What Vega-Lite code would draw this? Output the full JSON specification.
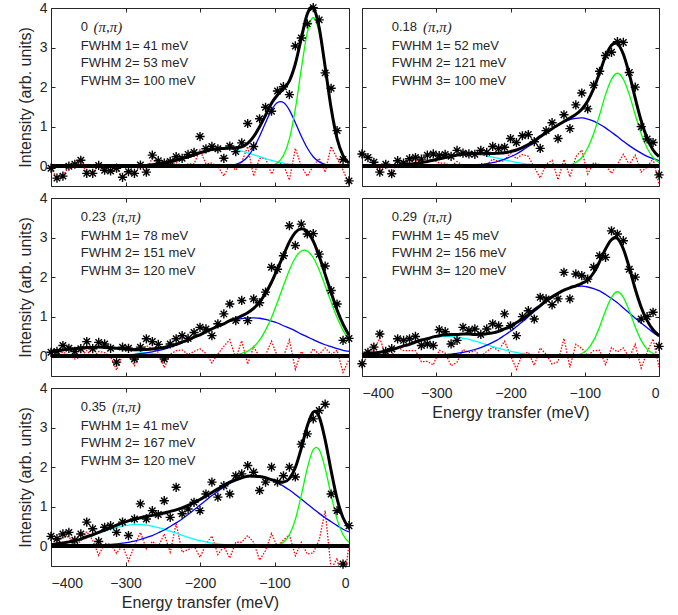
{
"$schema": "https://vega.github.io/schema/vega-lite/v6.json",
"padding": {"left": 16, "top": -1, "right": 5, "bottom": 5},
"background": "white",
"columns": 2,
"spacing": {"row": 12, "column": 13},
"bounds": "flush",
"datasets": {
"d": [
{"p":1,"E":-400,"t":0,"y":-0.05,"r":-0.05},
{"p":1,"E":-392,"t":0,"y":-0.3,"r":-0.3},
{"p":1,"E":-384,"t":0,"y":-0.25,"r":-0.25},
{"p":1,"E":-376,"t":0,"y":0,"r":0},
{"p":1,"E":-368,"t":0,"y":0.05,"r":0.05},
{"p":1,"E":-360,"t":0,"y":0.15,"r":0.15},
{"p":1,"E":-352,"t":0,"y":-0.18,"r":-0.18},
{"p":1,"E":-344,"t":0,"y":-0.18,"r":-0.18},
{"p":1,"E":-336,"t":0,"y":0.02,"r":0.02},
{"p":1,"E":-328,"t":0,"y":-0.1,"r":-0.1},
{"p":1,"E":-320,"t":0,"y":-0.12,"r":-0.12},
{"p":1,"E":-312,"t":0,"y":-0.05,"r":-0.05},
{"p":1,"E":-304,"t":0,"y":-0.28,"r":-0.28},
{"p":1,"E":-296,"t":0,"y":-0.14,"r":-0.14},
{"p":1,"E":-288,"t":0,"y":-0.18,"r":-0.18},
{"p":1,"E":-280,"t":0.01,"y":0.03,"r":0.02},
{"p":1,"E":-272,"t":0.02,"y":-0.15,"r":-0.17,"c":0.023},
{"p":1,"E":-264,"t":0.04,"y":0.28,"r":0.24,"c":0.035},
{"p":1,"E":-256,"t":0.05,"y":0.14,"r":0.09,"c":0.053},
{"p":1,"E":-248,"t":0.08,"y":0.08,"r":0,"c":0.077},
{"p":1,"E":-240,"t":0.11,"y":0.12,"r":0.01,"c":0.107},
{"p":1,"E":-232,"t":0.15,"y":0.24,"r":0.09,"c":0.145},
{"p":1,"E":-224,"t":0.19,"y":0.2,"r":0.01,"c":0.19},
{"p":1,"E":-216,"t":0.24,"y":0.3,"r":0.06,"c":0.24},
{"p":1,"E":-208,"t":0.29,"y":0.35,"r":0.06,"c":0.29},
{"p":1,"E":-200,"t":0.34,"y":0.75,"r":0.41,"c":0.34},
{"p":1,"E":-192,"t":0.38,"y":0.44,"r":0.06,"c":0.38},
{"p":1,"E":-184,"t":0.42,"y":0.5,"r":0.08,"c":0.42},
{"p":1,"E":-176,"t":0.44,"y":0.44,"r":0,"c":0.44},
{"p":1,"E":-168,"t":0.45,"y":0.2,"r":-0.25,"c":0.45},
{"p":1,"E":-160,"t":0.46,"y":0.51,"r":0.05,"b":0.017,"c":0.44},
{"p":1,"E":-152,"t":0.47,"y":0.37,"r":-0.1,"b":0.047,"c":0.42},
{"p":1,"E":-144,"t":0.49,"y":0.59,"r":0.1,"b":0.11,"c":0.38},
{"p":1,"E":-136,"t":0.58,"y":1.08,"r":0.5,"b":0.24,"c":0.34},
{"p":1,"E":-128,"t":0.75,"y":0.5,"r":-0.25,"b":0.46,"c":0.29},
{"p":1,"E":-120,"t":1,"y":1.2,"r":0.2,"b":0.76,"c":0.24},
{"p":1,"E":-112,"t":1.29,"y":1.49,"r":0.2,"b":1.1,"c":0.19},
{"p":1,"E":-104,"t":1.59,"y":1.39,"r":-0.2,"g":0.02,"b":1.42,"c":0.145},
{"p":1,"E":-96,"t":1.8,"y":1.9,"r":0.1,"g":0.083,"b":1.61,"c":0.107},
{"p":1,"E":-88,"t":1.96,"y":2.01,"r":0.05,"g":0.27,"b":1.61,"c":0.077},
{"p":1,"E":-80,"t":2.16,"y":1.81,"r":-0.35,"g":0.69,"b":1.42,"c":0.053},
{"p":1,"E":-72,"t":2.59,"y":3.04,"r":0.45,"g":1.45,"b":1.1,"c":0.035},
{"p":1,"E":-64,"t":3.24,"y":3.24,"r":0,"g":2.46,"b":0.76,"c":0.023},
{"p":1,"E":-56,"t":3.85,"y":3.6,"r":-0.25,"g":3.38,"b":0.46,"c":0.014},
{"p":1,"E":-48,"t":4.01,"y":4.01,"r":0,"g":3.76,"b":0.24,"c":0.008},
{"p":1,"E":-40,"t":3.5,"y":3.7,"r":0.2,"g":3.38,"b":0.11,"c":0.005},
{"p":1,"E":-32,"t":2.51,"y":2.36,"r":-0.15,"g":2.46,"b":0.047},
{"p":1,"E":-24,"t":1.47,"y":1.97,"r":0.5,"g":1.45,"b":0.017},
{"p":1,"E":-16,"t":0.7,"y":0.9,"r":0.2,"g":0.69},
{"p":1,"E":-8,"t":0.27,"y":0.17,"r":-0.1,"g":0.27},
{"p":1,"E":0,"t":0.08,"y":-0.37,"r":-0.45,"g":0.083},

{"p":2,"E":-400,"t":0,"y":0.31,"r":0.31,"c":0},
{"p":2,"E":-392,"t":0,"y":0.22,"r":0.22,"c":0},
{"p":2,"E":-384,"t":0,"y":0.1,"r":0.1,"c":0.003},
{"p":2,"E":-376,"t":0.01,"y":-0.15,"r":-0.16,"c":0.005},
{"p":2,"E":-368,"t":0.01,"y":0.05,"r":0.04,"c":0.009},
{"p":2,"E":-360,"t":0.01,"y":-0.19,"r":-0.2,"c":0.014},
{"p":2,"E":-352,"t":0.02,"y":0.14,"r":0.12,"c":0.022},
{"p":2,"E":-344,"t":0.03,"y":0.08,"r":0.05,"c":0.033},
{"p":2,"E":-336,"t":0.05,"y":0.19,"r":0.14,"c":0.049},
{"p":2,"E":-328,"t":0.07,"y":0.22,"r":0.15,"c":0.069},
{"p":2,"E":-320,"t":0.09,"y":0.18,"r":0.09,"c":0.093},
{"p":2,"E":-312,"t":0.12,"y":0.28,"r":0.16,"c":0.122},
{"p":2,"E":-304,"t":0.15,"y":0.31,"r":0.16,"c":0.154},
{"p":2,"E":-296,"t":0.19,"y":0.27,"r":0.08,"c":0.188},
{"p":2,"E":-288,"t":0.22,"y":0.3,"r":0.08,"c":0.222},
{"p":2,"E":-280,"t":0.25,"y":0.25,"r":0,"c":0.252},
{"p":2,"E":-272,"t":0.28,"y":0.4,"r":0.12,"c":0.277},
{"p":2,"E":-264,"t":0.31,"y":0.33,"r":0.02,"c":0.293},
{"p":2,"E":-256,"t":0.32,"y":0.31,"r":-0.01,"b":0.018,"c":0.3},
{"p":2,"E":-248,"t":0.32,"y":0.3,"r":-0.02,"b":0.028,"c":0.296},
{"p":2,"E":-240,"t":0.33,"y":0.4,"r":0.07,"b":0.043,"c":0.282},
{"p":2,"E":-232,"t":0.32,"y":0.35,"r":0.03,"b":0.063,"c":0.259},
{"p":2,"E":-224,"t":0.32,"y":0.5,"r":0.18,"b":0.09,"c":0.23},
{"p":2,"E":-216,"t":0.33,"y":0.45,"r":0.12,"b":0.13,"c":0.197},
{"p":2,"E":-208,"t":0.34,"y":0.48,"r":0.14,"b":0.18,"c":0.163},
{"p":2,"E":-200,"t":0.37,"y":0.7,"r":0.33,"b":0.24,"c":0.13},
{"p":2,"E":-192,"t":0.41,"y":0.6,"r":0.19,"b":0.31,"c":0.1},
{"p":2,"E":-184,"t":0.47,"y":0.77,"r":0.3,"b":0.4,"c":0.074},
{"p":2,"E":-176,"t":0.55,"y":0.8,"r":0.25,"b":0.5,"c":0.053},
{"p":2,"E":-168,"t":0.64,"y":0.62,"r":-0.02,"b":0.6,"c":0.037},
{"p":2,"E":-160,"t":0.75,"y":0.45,"r":-0.3,"b":0.72,"c":0.025},
{"p":2,"E":-152,"t":0.85,"y":0.9,"r":0.05,"b":0.83},
{"p":2,"E":-144,"t":0.95,"y":1.1,"r":0.15,"b":0.94},
{"p":2,"E":-136,"t":1.04,"y":0.7,"r":-0.34,"b":1.04},
{"p":2,"E":-128,"t":1.13,"y":1.3,"r":0.17,"g":0.012,"b":1.12},
{"p":2,"E":-120,"t":1.22,"y":0.95,"r":-0.27,"g":0.036,"b":1.18},
{"p":2,"E":-112,"t":1.31,"y":1.55,"r":0.24,"g":0.095,"b":1.21},
{"p":2,"E":-104,"t":1.44,"y":1.85,"r":0.41,"g":0.22,"b":1.22},
{"p":2,"E":-96,"t":1.65,"y":1.45,"r":-0.2,"g":0.46,"b":1.19},
{"p":2,"E":-88,"t":1.96,"y":2.05,"r":0.09,"g":0.82,"b":1.14},
{"p":2,"E":-80,"t":2.36,"y":2.4,"r":0.04,"g":1.3,"b":1.06},
{"p":2,"E":-72,"t":2.78,"y":2.8,"r":0.02,"g":1.81,"b":0.97},
{"p":2,"E":-64,"t":3.06,"y":2.88,"r":-0.18,"g":2.2,"b":0.86},
{"p":2,"E":-56,"t":3.1,"y":3.15,"r":0.05,"g":2.35,"b":0.75},
{"p":2,"E":-48,"t":2.83,"y":3.13,"r":0.3,"g":2.2,"b":0.63},
{"p":2,"E":-40,"t":2.33,"y":2.37,"r":0.04,"g":1.81,"b":0.52},
{"p":2,"E":-32,"t":1.72,"y":2,"r":0.28,"g":1.3,"b":0.42},
{"p":2,"E":-24,"t":1.15,"y":1,"r":-0.15,"g":0.82,"b":0.33},
{"p":2,"E":-16,"t":0.71,"y":0.69,"r":-0.02,"g":0.46,"b":0.25},
{"p":2,"E":-8,"t":0.41,"y":0.6,"r":0.19,"g":0.22,"b":0.19},
{"p":2,"E":0,"t":0.24,"y":-0.22,"r":-0.46,"g":0.095,"b":0.14},

{"p":3,"E":-400,"t":0.12,"y":0.1,"r":-0.02,"c":0.115},
{"p":3,"E":-392,"t":0.14,"y":0.12,"r":-0.02,"c":0.136},
{"p":3,"E":-384,"t":0.16,"y":0.27,"r":0.11,"c":0.157},
{"p":3,"E":-376,"t":0.18,"y":0.2,"r":0.02,"c":0.176},
{"p":3,"E":-368,"t":0.19,"y":0.12,"r":-0.07,"c":0.193},
{"p":3,"E":-360,"t":0.21,"y":0.19,"r":-0.02,"c":0.207},
{"p":3,"E":-352,"t":0.22,"y":0.37,"r":0.15,"c":0.216},
{"p":3,"E":-344,"t":0.22,"y":0.19,"r":-0.03,"c":0.22},
{"p":3,"E":-336,"t":0.23,"y":0.35,"r":0.12,"c":0.22},
{"p":3,"E":-328,"t":0.22,"y":0.31,"r":0.09,"c":0.212},
{"p":3,"E":-320,"t":0.21,"y":0.2,"r":-0.01,"c":0.2},
{"p":3,"E":-312,"t":0.2,"y":-0.15,"r":-0.35,"b":0.018,"c":0.185},
{"p":3,"E":-304,"t":0.19,"y":0.23,"r":0.04,"b":0.025,"c":0.167},
{"p":3,"E":-296,"t":0.18,"y":0.2,"r":0.02,"b":0.035,"c":0.146},
{"p":3,"E":-288,"t":0.17,"y":-0.07,"r":-0.24,"b":0.048,"c":0.126},
{"p":3,"E":-280,"t":0.17,"y":0.23,"r":0.06,"b":0.065,"c":0.105},
{"p":3,"E":-272,"t":0.17,"y":0.44,"r":0.27,"b":0.086,"c":0.086},
{"p":3,"E":-264,"t":0.18,"y":0.37,"r":0.19,"b":0.11,"c":0.068},
{"p":3,"E":-256,"t":0.2,"y":0.3,"r":0.1,"b":0.145,"c":0.053},
{"p":3,"E":-248,"t":0.22,"y":-0.07,"r":-0.29,"b":0.18,"c":0.04},
{"p":3,"E":-240,"t":0.26,"y":0.31,"r":0.05,"b":0.23,"c":0.03},
{"p":3,"E":-232,"t":0.3,"y":0.44,"r":0.14,"b":0.28},
{"p":3,"E":-224,"t":0.36,"y":0.52,"r":0.16,"b":0.34},
{"p":3,"E":-216,"t":0.41,"y":0.45,"r":0.04,"b":0.4},
{"p":3,"E":-208,"t":0.48,"y":0.6,"r":0.12,"b":0.47},
{"p":3,"E":-200,"t":0.54,"y":0.73,"r":0.19,"b":0.54},
{"p":3,"E":-192,"t":0.62,"y":0.69,"r":0.07,"b":0.62},
{"p":3,"E":-184,"t":0.69,"y":0.52,"r":-0.17,"b":0.69},
{"p":3,"E":-176,"t":0.76,"y":0.82,"r":0.06,"b":0.76},
{"p":3,"E":-168,"t":0.82,"y":1.07,"r":0.25,"b":0.82},
{"p":3,"E":-160,"t":0.9,"y":1.32,"r":0.42,"g":0.015,"b":0.88},
{"p":3,"E":-152,"t":0.95,"y":0.9,"r":-0.05,"g":0.03,"b":0.92},
{"p":3,"E":-144,"t":1.02,"y":1.41,"r":0.39,"g":0.07,"b":0.95},
{"p":3,"E":-136,"t":1.1,"y":0.9,"r":-0.2,"g":0.13,"b":0.97},
{"p":3,"E":-128,"t":1.21,"y":1.45,"r":0.24,"g":0.24,"b":0.97},
{"p":3,"E":-120,"t":1.37,"y":1.35,"r":-0.02,"g":0.41,"b":0.96},
{"p":3,"E":-112,"t":1.59,"y":1.62,"r":0.03,"g":0.66,"b":0.93},
{"p":3,"E":-104,"t":1.87,"y":2.25,"r":0.38,"g":0.98,"b":0.89},
{"p":3,"E":-96,"t":2.21,"y":2.2,"r":-0.01,"g":1.37,"b":0.84},
{"p":3,"E":-88,"t":2.55,"y":2.54,"r":-0.01,"g":1.78,"b":0.77},
{"p":3,"E":-80,"t":2.89,"y":3.3,"r":0.41,"g":2.18,"b":0.71},
{"p":3,"E":-72,"t":3.13,"y":2.8,"r":-0.33,"g":2.49,"b":0.64},
{"p":3,"E":-64,"t":3.22,"y":3.34,"r":0.12,"g":2.66,"b":0.56},
{"p":3,"E":-56,"t":3.15,"y":3.09,"r":-0.06,"g":2.66,"b":0.49},
{"p":3,"E":-48,"t":2.91,"y":3.1,"r":0.19,"g":2.49,"b":0.42},
{"p":3,"E":-40,"t":2.53,"y":2.58,"r":0.05,"g":2.18,"b":0.35},
{"p":3,"E":-32,"t":2.07,"y":2.28,"r":0.21,"g":1.78,"b":0.29},
{"p":3,"E":-24,"t":1.61,"y":1.66,"r":0.05,"g":1.37,"b":0.24},
{"p":3,"E":-16,"t":1.17,"y":1.32,"r":0.15,"g":0.98,"b":0.19},
{"p":3,"E":-8,"t":0.81,"y":0.4,"r":-0.41,"g":0.66,"b":0.15},
{"p":3,"E":0,"t":0.53,"y":0.45,"r":-0.08,"g":0.41,"b":0.12},

{"p":4,"E":-400,"t":0.04,"y":-0.19,"r":-0.23,"c":0.039},
{"p":4,"E":-392,"t":0.06,"y":0.1,"r":0.04,"c":0.055},
{"p":4,"E":-384,"t":0.08,"y":0.23,"r":0.15,"c":0.076},
{"p":4,"E":-376,"t":0.1,"y":0.56,"r":0.46,"c":0.1},
{"p":4,"E":-368,"t":0.13,"y":0.12,"r":-0.01,"c":0.13},
{"p":4,"E":-360,"t":0.17,"y":0.19,"r":0.02,"c":0.17},
{"p":4,"E":-352,"t":0.21,"y":0.44,"r":0.23,"c":0.21},
{"p":4,"E":-344,"t":0.26,"y":0.4,"r":0.14,"c":0.26},
{"p":4,"E":-336,"t":0.3,"y":0.44,"r":0.14,"c":0.3},
{"p":4,"E":-328,"t":0.36,"y":0.5,"r":0.14,"c":0.35},
{"p":4,"E":-320,"t":0.41,"y":0.27,"r":-0.14,"c":0.4},
{"p":4,"E":-312,"t":0.44,"y":0.31,"r":-0.13,"c":0.43},
{"p":4,"E":-304,"t":0.49,"y":0.27,"r":-0.22,"b":0.019,"c":0.47},
{"p":4,"E":-296,"t":0.52,"y":0.67,"r":0.15,"b":0.028,"c":0.49},
{"p":4,"E":-288,"t":0.54,"y":0.62,"r":0.08,"b":0.039,"c":0.5},
{"p":4,"E":-280,"t":0.55,"y":0.31,"r":-0.24,"b":0.054,"c":0.5},
{"p":4,"E":-272,"t":0.55,"y":0.4,"r":-0.15,"b":0.073,"c":0.48},
{"p":4,"E":-264,"t":0.56,"y":0.73,"r":0.17,"b":0.099,"c":0.46},
{"p":4,"E":-256,"t":0.56,"y":0.65,"r":0.09,"b":0.13,"c":0.43},
{"p":4,"E":-248,"t":0.55,"y":0.69,"r":0.14,"b":0.17,"c":0.38},
{"p":4,"E":-240,"t":0.56,"y":0.55,"r":-0.01,"b":0.22,"c":0.34},
{"p":4,"E":-232,"t":0.57,"y":0.69,"r":0.12,"b":0.28,"c":0.29},
{"p":4,"E":-224,"t":0.59,"y":0.82,"r":0.23,"b":0.35,"c":0.24},
{"p":4,"E":-216,"t":0.63,"y":0.77,"r":0.14,"b":0.43,"c":0.2},
{"p":4,"E":-208,"t":0.69,"y":1.07,"r":0.38,"b":0.53,"c":0.16},
{"p":4,"E":-200,"t":0.75,"y":0.77,"r":0.02,"b":0.63,"c":0.12},
{"p":4,"E":-192,"t":0.85,"y":0.52,"r":-0.33,"b":0.75,"c":0.095},
{"p":4,"E":-184,"t":0.94,"y":1,"r":0.06,"b":0.87,"c":0.07},
{"p":4,"E":-176,"t":1.05,"y":1.15,"r":0.1,"b":1,"c":0.051},
{"p":4,"E":-168,"t":1.17,"y":0.94,"r":-0.23,"b":1.13,"c":0.036},
{"p":4,"E":-160,"t":1.28,"y":1.49,"r":0.21,"b":1.25,"c":0.025},
{"p":4,"E":-152,"t":1.4,"y":1.45,"r":0.05,"b":1.38},
{"p":4,"E":-144,"t":1.5,"y":1.3,"r":-0.2,"b":1.49},
{"p":4,"E":-136,"t":1.59,"y":1.45,"r":-0.14,"b":1.59},
{"p":4,"E":-128,"t":1.67,"y":2.12,"r":0.45,"b":1.67},
{"p":4,"E":-120,"t":1.73,"y":1.45,"r":-0.28,"b":1.73},
{"p":4,"E":-112,"t":1.78,"y":2.08,"r":0.3,"g":0.022,"b":1.76},
{"p":4,"E":-104,"t":1.84,"y":2.04,"r":0.2,"g":0.07,"b":1.77},
{"p":4,"E":-96,"t":1.93,"y":1.95,"r":0.02,"g":0.18,"b":1.75},
{"p":4,"E":-88,"t":2.11,"y":2.25,"r":0.14,"g":0.4,"b":1.71},
{"p":4,"E":-80,"t":2.39,"y":2.54,"r":0.15,"g":0.74,"b":1.65},
{"p":4,"E":-72,"t":2.71,"y":2.5,"r":-0.21,"g":1.15,"b":1.56},
{"p":4,"E":-64,"t":2.95,"y":3.17,"r":0.22,"g":1.49,"b":1.46},
{"p":4,"E":-56,"t":2.98,"y":3.09,"r":0.11,"g":1.63,"b":1.35},
{"p":4,"E":-48,"t":2.71,"y":2.92,"r":0.21,"g":1.49,"b":1.22},
{"p":4,"E":-40,"t":2.24,"y":2.2,"r":-0.04,"g":1.15,"b":1.09},
{"p":4,"E":-32,"t":1.7,"y":2,"r":0.3,"g":0.74,"b":0.96},
{"p":4,"E":-24,"t":1.24,"y":0.94,"r":-0.3,"g":0.4,"b":0.84},
{"p":4,"E":-16,"t":0.9,"y":1,"r":0.1,"g":0.18,"b":0.72},
{"p":4,"E":-8,"t":0.67,"y":1.11,"r":0.44,"g":0.07,"b":0.6},
{"p":4,"E":0,"t":0.52,"y":0.25,"r":-0.27,"g":0.022,"b":0.5},

{"p":5,"E":-400,"t":0.04,"y":0.25,"r":0.21,"c":0.041},
{"p":5,"E":-392,"t":0.06,"y":0.19,"r":0.13,"c":0.058},
{"p":5,"E":-384,"t":0.08,"y":0.31,"r":0.23,"c":0.08},
{"p":5,"E":-376,"t":0.11,"y":0.35,"r":0.24,"c":0.108},
{"p":5,"E":-368,"t":0.14,"y":0.15,"r":0.01,"c":0.14},
{"p":5,"E":-360,"t":0.18,"y":0.31,"r":0.13,"c":0.18},
{"p":5,"E":-352,"t":0.24,"y":0.61,"r":0.37,"c":0.226},
{"p":5,"E":-344,"t":0.29,"y":0.44,"r":0.15,"c":0.275},
{"p":5,"E":-336,"t":0.35,"y":0.12,"r":-0.23,"b":0.023,"c":0.33},
{"p":5,"E":-328,"t":0.41,"y":0.48,"r":0.07,"b":0.032,"c":0.38},
{"p":5,"E":-320,"t":0.47,"y":0.52,"r":0.05,"b":0.044,"c":0.43},
{"p":5,"E":-312,"t":0.53,"y":0.35,"r":-0.18,"b":0.059,"c":0.47},
{"p":5,"E":-304,"t":0.59,"y":0.61,"r":0.02,"b":0.078,"c":0.51},
{"p":5,"E":-296,"t":0.64,"y":0.27,"r":-0.37,"b":0.1,"c":0.535},
{"p":5,"E":-288,"t":0.68,"y":0.69,"r":0.01,"b":0.13,"c":0.55},
{"p":5,"E":-280,"t":0.72,"y":1.07,"r":0.35,"b":0.17,"c":0.55},
{"p":5,"E":-272,"t":0.76,"y":0.69,"r":-0.07,"b":0.22,"c":0.535},
{"p":5,"E":-264,"t":0.78,"y":0.9,"r":0.12,"b":0.27,"c":0.51},
{"p":5,"E":-256,"t":0.81,"y":0.8,"r":-0.01,"b":0.34,"c":0.47},
{"p":5,"E":-248,"t":0.84,"y":1.15,"r":0.31,"b":0.41,"c":0.43},
{"p":5,"E":-240,"t":0.88,"y":0.73,"r":-0.15,"b":0.5,"c":0.38},
{"p":5,"E":-232,"t":0.92,"y":1.49,"r":0.57,"b":0.59,"c":0.33},
{"p":5,"E":-224,"t":0.97,"y":0.82,"r":-0.15,"b":0.69,"c":0.275},
{"p":5,"E":-216,"t":1.03,"y":0.94,"r":-0.09,"b":0.8,"c":0.226},
{"p":5,"E":-208,"t":1.1,"y":1.11,"r":0.01,"b":0.92,"c":0.18},
{"p":5,"E":-200,"t":1.18,"y":0.9,"r":-0.28,"b":1.04,"c":0.14},
{"p":5,"E":-192,"t":1.27,"y":1.32,"r":0.05,"b":1.16,"c":0.108},
{"p":5,"E":-184,"t":1.36,"y":1.62,"r":0.26,"b":1.28,"c":0.08},
{"p":5,"E":-176,"t":1.45,"y":1.24,"r":-0.21,"b":1.39,"c":0.058},
{"p":5,"E":-168,"t":1.54,"y":1.53,"r":-0.01,"b":1.5,"c":0.041},
{"p":5,"E":-160,"t":1.62,"y":1.32,"r":-0.3,"b":1.59},
{"p":5,"E":-152,"t":1.68,"y":1.78,"r":0.1,"b":1.66},
{"p":5,"E":-144,"t":1.73,"y":1.83,"r":0.1,"b":1.72},
{"p":5,"E":-136,"t":1.77,"y":2.04,"r":0.27,"b":1.76},
{"p":5,"E":-128,"t":1.77,"y":1.87,"r":0.1,"b":1.77},
{"p":5,"E":-120,"t":1.76,"y":1.41,"r":-0.35,"b":1.76},
{"p":5,"E":-112,"t":1.73,"y":1.62,"r":-0.11,"b":1.73},
{"p":5,"E":-104,"t":1.68,"y":2,"r":0.32,"b":1.68},
{"p":5,"E":-96,"t":1.64,"y":1.62,"r":-0.02,"g":0.03,"b":1.61},
{"p":5,"E":-88,"t":1.62,"y":1.78,"r":0.16,"g":0.1,"b":1.52},
{"p":5,"E":-80,"t":1.71,"y":2,"r":0.29,"g":0.29,"b":1.42},
{"p":5,"E":-72,"t":1.99,"y":1.75,"r":-0.24,"g":0.68,"b":1.31},
{"p":5,"E":-64,"t":2.48,"y":2.58,"r":0.1,"g":1.29,"b":1.19},
{"p":5,"E":-56,"t":3.04,"y":2.84,"r":-0.2,"g":1.97,"b":1.07},
{"p":5,"E":-48,"t":3.39,"y":3.22,"r":-0.17,"g":2.44,"b":0.95},
{"p":5,"E":-40,"t":3.27,"y":3.43,"r":0.16,"g":2.44,"b":0.83},
{"p":5,"E":-32,"t":2.69,"y":3.59,"r":0.9,"g":1.97,"b":0.72},
{"p":5,"E":-24,"t":1.91,"y":1.32,"r":-0.59,"g":1.29,"b":0.62},
{"p":5,"E":-16,"t":1.2,"y":0.9,"r":-0.3,"g":0.68,"b":0.52},
{"p":5,"E":-8,"t":0.72,"y":-0.45,"r":-1.17,"g":0.29,"b":0.43},
{"p":5,"E":0,"t":0.46,"y":0.52,"r":0.06,"g":0.1,"b":0.36}
],
"t": [
{"p":1,"n":"0","q":"(π,π)","f1":"FWHM 1= 41 meV","f2":"FWHM 2= 53 meV","f3":"FWHM 3= 100 meV"},
{"p":2,"n":"0.18","q":"(π,π)","f1":"FWHM 1= 52 meV","f2":"FWHM 2= 121 meV","f3":"FWHM 3= 100 meV"},
{"p":3,"n":"0.23","q":"(π,π)","f1":"FWHM 1= 78 meV","f2":"FWHM 2= 151 meV","f3":"FWHM 3= 120 meV"},
{"p":4,"n":"0.29","q":"(π,π)","f1":"FWHM 1= 45 meV","f2":"FWHM 2= 156 meV","f3":"FWHM 3= 120 meV"},
{"p":5,"n":"0.35","q":"(π,π)","f1":"FWHM 1= 41 meV","f2":"FWHM 2= 167 meV","f3":"FWHM 3= 120 meV"}
]
},
"concat": [
{
"width": 298, "height": 178,
"data": {"name": "d"},
"transform": [{"filter": "datum.p==1"}],
"resolve": {"axis": {"x": "independent", "y": "independent"}},
"layer": [
{"mark": {"type": "line", "color": "#ff0000", "strokeWidth": 1.3, "strokeDash": [1.5, 1.5], "interpolate": "linear", "clip": true},
 "encoding": {"x": {"field": "E", "type": "quantitative", "scale": {"domain": [-400, 0], "nice": false, "zero": false}, "axis": {"values": [-400, -300, -200, -100, 0], "labels": false, "title": null}},
  "y": {"field": "r", "type": "quantitative", "scale": {"domain": [-0.5, 4], "nice": false, "zero": false}, "axis": {"values": [0, 1, 2, 3, 4], "title": "Intensity (arb. units)"}}}},
{"mark": {"type": "line", "color": "#00ffff"}, "encoding": {"x": {"field": "E", "type": "quantitative", "axis": null}, "y": {"field": "c", "type": "quantitative", "axis": null}}},
{"mark": {"type": "line", "color": "#0000ff"}, "encoding": {"x": {"field": "E", "type": "quantitative", "axis": null}, "y": {"field": "b", "type": "quantitative", "axis": null}}},
{"mark": {"type": "line", "color": "#00ff00"}, "encoding": {"x": {"field": "E", "type": "quantitative", "axis": null}, "y": {"field": "g", "type": "quantitative", "axis": null}}},
{"mark": {"type": "line", "color": "#000000", "strokeWidth": 3}, "encoding": {"x": {"field": "E", "type": "quantitative", "axis": null}, "y": {"field": "t", "type": "quantitative", "axis": null}}},
{"mark": {"type": "rule", "color": "#000000", "strokeWidth": 3}, "encoding": {"y": {"datum": 0, "axis": null}}},
{"mark": {"type": "point"}, "encoding": {"x": {"field": "E", "type": "quantitative", "axis": {"orient": "top", "values": [-400, -300, -200, -100, 0], "labels": false, "title": null}}, "y": {"field": "y", "type": "quantitative", "axis": {"orient": "right", "values": [0, 1, 2, 3, 4], "labels": false, "title": null}}}},
{"data": {"name": "t"}, "transform": [{"filter": "datum.p==1"}], "mark": {"type": "text"}, "encoding": {"x": {"datum": -360, "axis": null}, "y": {"datum": 3.51, "axis": null}, "text": {"field": "n"}}},
{"data": {"name": "t"}, "transform": [{"filter": "datum.p==1"}], "mark": {"type": "text", "font": "Liberation Serif", "fontStyle": "italic", "fontSize": 15}, "encoding": {"x": {"datum": -343, "axis": null}, "y": {"datum": 3.51, "axis": null}, "text": {"field": "q"}}},
{"data": {"name": "t"}, "transform": [{"filter": "datum.p==1"}], "mark": {"type": "text"}, "encoding": {"x": {"datum": -360, "axis": null}, "y": {"datum": 3.05, "axis": null}, "text": {"field": "f1"}}},
{"data": {"name": "t"}, "transform": [{"filter": "datum.p==1"}], "mark": {"type": "text"}, "encoding": {"x": {"datum": -360, "axis": null}, "y": {"datum": 2.6, "axis": null}, "text": {"field": "f2"}}},
{"data": {"name": "t"}, "transform": [{"filter": "datum.p==1"}], "mark": {"type": "text"}, "encoding": {"x": {"datum": -360, "axis": null}, "y": {"datum": 2.15, "axis": null}, "text": {"field": "f3"}}}
]
},
{
"width": 297, "height": 178,
"data": {"name": "d"},
"transform": [{"filter": "datum.p==2"}],
"resolve": {"axis": {"x": "independent", "y": "independent"}},
"layer": [
{"mark": {"type": "line", "color": "#ff0000", "strokeWidth": 1.3, "strokeDash": [1.5, 1.5], "interpolate": "linear", "clip": true},
 "encoding": {"x": {"field": "E", "type": "quantitative", "scale": {"domain": [-400, 0], "nice": false, "zero": false}, "axis": {"values": [-400, -300, -200, -100, 0], "labels": false, "title": null}},
  "y": {"field": "r", "type": "quantitative", "scale": {"domain": [-0.5, 4], "nice": false, "zero": false}, "axis": {"values": [0, 1, 2, 3, 4], "labels": false, "title": null}}}},
{"mark": {"type": "line", "color": "#00ffff"}, "encoding": {"x": {"field": "E", "type": "quantitative", "axis": null}, "y": {"field": "c", "type": "quantitative", "axis": null}}},
{"mark": {"type": "line", "color": "#0000ff"}, "encoding": {"x": {"field": "E", "type": "quantitative", "axis": null}, "y": {"field": "b", "type": "quantitative", "axis": null}}},
{"mark": {"type": "line", "color": "#00ff00"}, "encoding": {"x": {"field": "E", "type": "quantitative", "axis": null}, "y": {"field": "g", "type": "quantitative", "axis": null}}},
{"mark": {"type": "line", "color": "#000000", "strokeWidth": 3}, "encoding": {"x": {"field": "E", "type": "quantitative", "axis": null}, "y": {"field": "t", "type": "quantitative", "axis": null}}},
{"mark": {"type": "rule", "color": "#000000", "strokeWidth": 3}, "encoding": {"y": {"datum": 0, "axis": null}}},
{"mark": {"type": "point"}, "encoding": {"x": {"field": "E", "type": "quantitative", "axis": {"orient": "top", "values": [-400, -300, -200, -100, 0], "labels": false, "title": null}}, "y": {"field": "y", "type": "quantitative", "axis": {"orient": "right", "values": [0, 1, 2, 3, 4], "labels": false, "title": null}}}},
{"data": {"name": "t"}, "transform": [{"filter": "datum.p==2"}], "mark": {"type": "text"}, "encoding": {"x": {"datum": -360, "axis": null}, "y": {"datum": 3.51, "axis": null}, "text": {"field": "n"}}},
{"data": {"name": "t"}, "transform": [{"filter": "datum.p==2"}], "mark": {"type": "text", "font": "Liberation Serif", "fontStyle": "italic", "fontSize": 15}, "encoding": {"x": {"datum": -318, "axis": null}, "y": {"datum": 3.51, "axis": null}, "text": {"field": "q"}}},
{"data": {"name": "t"}, "transform": [{"filter": "datum.p==2"}], "mark": {"type": "text"}, "encoding": {"x": {"datum": -360, "axis": null}, "y": {"datum": 3.05, "axis": null}, "text": {"field": "f1"}}},
{"data": {"name": "t"}, "transform": [{"filter": "datum.p==2"}], "mark": {"type": "text"}, "encoding": {"x": {"datum": -360, "axis": null}, "y": {"datum": 2.6, "axis": null}, "text": {"field": "f2"}}},
{"data": {"name": "t"}, "transform": [{"filter": "datum.p==2"}], "mark": {"type": "text"}, "encoding": {"x": {"datum": -360, "axis": null}, "y": {"datum": 2.15, "axis": null}, "text": {"field": "f3"}}}
]
},
{
"width": 298, "height": 178,
"data": {"name": "d"},
"transform": [{"filter": "datum.p==3"}],
"resolve": {"axis": {"x": "independent", "y": "independent"}},
"layer": [
{"mark": {"type": "line", "color": "#ff0000", "strokeWidth": 1.3, "strokeDash": [1.5, 1.5], "interpolate": "linear", "clip": true},
 "encoding": {"x": {"field": "E", "type": "quantitative", "scale": {"domain": [-400, 0], "nice": false, "zero": false}, "axis": {"values": [-400, -300, -200, -100, 0], "labels": false, "title": null}},
  "y": {"field": "r", "type": "quantitative", "scale": {"domain": [-0.5, 4], "nice": false, "zero": false}, "axis": {"values": [0, 1, 2, 3, 4], "title": "Intensity (arb. units)"}}}},
{"mark": {"type": "line", "color": "#00ffff"}, "encoding": {"x": {"field": "E", "type": "quantitative", "axis": null}, "y": {"field": "c", "type": "quantitative", "axis": null}}},
{"mark": {"type": "line", "color": "#0000ff"}, "encoding": {"x": {"field": "E", "type": "quantitative", "axis": null}, "y": {"field": "b", "type": "quantitative", "axis": null}}},
{"mark": {"type": "line", "color": "#00ff00"}, "encoding": {"x": {"field": "E", "type": "quantitative", "axis": null}, "y": {"field": "g", "type": "quantitative", "axis": null}}},
{"mark": {"type": "line", "color": "#000000", "strokeWidth": 3}, "encoding": {"x": {"field": "E", "type": "quantitative", "axis": null}, "y": {"field": "t", "type": "quantitative", "axis": null}}},
{"mark": {"type": "rule", "color": "#000000", "strokeWidth": 3}, "encoding": {"y": {"datum": 0, "axis": null}}},
{"mark": {"type": "point"}, "encoding": {"x": {"field": "E", "type": "quantitative", "axis": {"orient": "top", "values": [-400, -300, -200, -100, 0], "labels": false, "title": null}}, "y": {"field": "y", "type": "quantitative", "axis": {"orient": "right", "values": [0, 1, 2, 3, 4], "labels": false, "title": null}}}},
{"data": {"name": "t"}, "transform": [{"filter": "datum.p==3"}], "mark": {"type": "text"}, "encoding": {"x": {"datum": -360, "axis": null}, "y": {"datum": 3.51, "axis": null}, "text": {"field": "n"}}},
{"data": {"name": "t"}, "transform": [{"filter": "datum.p==3"}], "mark": {"type": "text", "font": "Liberation Serif", "fontStyle": "italic", "fontSize": 15}, "encoding": {"x": {"datum": -318, "axis": null}, "y": {"datum": 3.51, "axis": null}, "text": {"field": "q"}}},
{"data": {"name": "t"}, "transform": [{"filter": "datum.p==3"}], "mark": {"type": "text"}, "encoding": {"x": {"datum": -360, "axis": null}, "y": {"datum": 3.05, "axis": null}, "text": {"field": "f1"}}},
{"data": {"name": "t"}, "transform": [{"filter": "datum.p==3"}], "mark": {"type": "text"}, "encoding": {"x": {"datum": -360, "axis": null}, "y": {"datum": 2.6, "axis": null}, "text": {"field": "f2"}}},
{"data": {"name": "t"}, "transform": [{"filter": "datum.p==3"}], "mark": {"type": "text"}, "encoding": {"x": {"datum": -360, "axis": null}, "y": {"datum": 2.15, "axis": null}, "text": {"field": "f3"}}}
]
},
{
"width": 297, "height": 178,
"data": {"name": "d"},
"transform": [{"filter": "datum.p==4"}],
"resolve": {"axis": {"x": "independent", "y": "independent"}},
"layer": [
{"mark": {"type": "line", "color": "#ff0000", "strokeWidth": 1.3, "strokeDash": [1.5, 1.5], "interpolate": "linear", "clip": true},
 "encoding": {"x": {"field": "E", "type": "quantitative", "scale": {"domain": [-400, 0], "nice": false, "zero": false}, "axis": {"values": [-400, -300, -200, -100, 0], "title": "Energy transfer (meV)"}},
  "y": {"field": "r", "type": "quantitative", "scale": {"domain": [-0.5, 4], "nice": false, "zero": false}, "axis": {"values": [0, 1, 2, 3, 4], "labels": false, "title": null}}}},
{"mark": {"type": "line", "color": "#00ffff"}, "encoding": {"x": {"field": "E", "type": "quantitative", "axis": null}, "y": {"field": "c", "type": "quantitative", "axis": null}}},
{"mark": {"type": "line", "color": "#0000ff"}, "encoding": {"x": {"field": "E", "type": "quantitative", "axis": null}, "y": {"field": "b", "type": "quantitative", "axis": null}}},
{"mark": {"type": "line", "color": "#00ff00"}, "encoding": {"x": {"field": "E", "type": "quantitative", "axis": null}, "y": {"field": "g", "type": "quantitative", "axis": null}}},
{"mark": {"type": "line", "color": "#000000", "strokeWidth": 3}, "encoding": {"x": {"field": "E", "type": "quantitative", "axis": null}, "y": {"field": "t", "type": "quantitative", "axis": null}}},
{"mark": {"type": "rule", "color": "#000000", "strokeWidth": 3}, "encoding": {"y": {"datum": 0, "axis": null}}},
{"mark": {"type": "point"}, "encoding": {"x": {"field": "E", "type": "quantitative", "axis": {"orient": "top", "values": [-400, -300, -200, -100, 0], "labels": false, "title": null}}, "y": {"field": "y", "type": "quantitative", "axis": {"orient": "right", "values": [0, 1, 2, 3, 4], "labels": false, "title": null}}}},
{"data": {"name": "t"}, "transform": [{"filter": "datum.p==4"}], "mark": {"type": "text"}, "encoding": {"x": {"datum": -360, "axis": null}, "y": {"datum": 3.51, "axis": null}, "text": {"field": "n"}}},
{"data": {"name": "t"}, "transform": [{"filter": "datum.p==4"}], "mark": {"type": "text", "font": "Liberation Serif", "fontStyle": "italic", "fontSize": 15}, "encoding": {"x": {"datum": -318, "axis": null}, "y": {"datum": 3.51, "axis": null}, "text": {"field": "q"}}},
{"data": {"name": "t"}, "transform": [{"filter": "datum.p==4"}], "mark": {"type": "text"}, "encoding": {"x": {"datum": -360, "axis": null}, "y": {"datum": 3.05, "axis": null}, "text": {"field": "f1"}}},
{"data": {"name": "t"}, "transform": [{"filter": "datum.p==4"}], "mark": {"type": "text"}, "encoding": {"x": {"datum": -360, "axis": null}, "y": {"datum": 2.6, "axis": null}, "text": {"field": "f2"}}},
{"data": {"name": "t"}, "transform": [{"filter": "datum.p==4"}], "mark": {"type": "text"}, "encoding": {"x": {"datum": -360, "axis": null}, "y": {"datum": 2.15, "axis": null}, "text": {"field": "f3"}}}
]
},
{
"width": 298, "height": 178,
"data": {"name": "d"},
"transform": [{"filter": "datum.p==5"}],
"resolve": {"axis": {"x": "independent", "y": "independent"}},
"layer": [
{"mark": {"type": "line", "color": "#ff0000", "strokeWidth": 1.3, "strokeDash": [1.5, 1.5], "interpolate": "linear", "clip": true},
 "encoding": {"x": {"field": "E", "type": "quantitative", "scale": {"domain": [-400, 0], "nice": false, "zero": false}, "axis": {"values": [-400, -300, -200, -100, 0], "title": "Energy transfer (meV)"}},
  "y": {"field": "r", "type": "quantitative", "scale": {"domain": [-0.5, 4], "nice": false, "zero": false}, "axis": {"values": [0, 1, 2, 3, 4], "title": "Intensity (arb. units)"}}}},
{"mark": {"type": "line", "color": "#00ffff"}, "encoding": {"x": {"field": "E", "type": "quantitative", "axis": null}, "y": {"field": "c", "type": "quantitative", "axis": null}}},
{"mark": {"type": "line", "color": "#0000ff"}, "encoding": {"x": {"field": "E", "type": "quantitative", "axis": null}, "y": {"field": "b", "type": "quantitative", "axis": null}}},
{"mark": {"type": "line", "color": "#00ff00"}, "encoding": {"x": {"field": "E", "type": "quantitative", "axis": null}, "y": {"field": "g", "type": "quantitative", "axis": null}}},
{"mark": {"type": "line", "color": "#000000", "strokeWidth": 3}, "encoding": {"x": {"field": "E", "type": "quantitative", "axis": null}, "y": {"field": "t", "type": "quantitative", "axis": null}}},
{"mark": {"type": "rule", "color": "#000000", "strokeWidth": 3}, "encoding": {"y": {"datum": 0, "axis": null}}},
{"mark": {"type": "point"}, "encoding": {"x": {"field": "E", "type": "quantitative", "axis": {"orient": "top", "values": [-400, -300, -200, -100, 0], "labels": false, "title": null}}, "y": {"field": "y", "type": "quantitative", "axis": {"orient": "right", "values": [0, 1, 2, 3, 4], "labels": false, "title": null}}}},
{"data": {"name": "t"}, "transform": [{"filter": "datum.p==5"}], "mark": {"type": "text"}, "encoding": {"x": {"datum": -360, "axis": null}, "y": {"datum": 3.51, "axis": null}, "text": {"field": "n"}}},
{"data": {"name": "t"}, "transform": [{"filter": "datum.p==5"}], "mark": {"type": "text", "font": "Liberation Serif", "fontStyle": "italic", "fontSize": 15}, "encoding": {"x": {"datum": -318, "axis": null}, "y": {"datum": 3.51, "axis": null}, "text": {"field": "q"}}},
{"data": {"name": "t"}, "transform": [{"filter": "datum.p==5"}], "mark": {"type": "text"}, "encoding": {"x": {"datum": -360, "axis": null}, "y": {"datum": 3.05, "axis": null}, "text": {"field": "f1"}}},
{"data": {"name": "t"}, "transform": [{"filter": "datum.p==5"}], "mark": {"type": "text"}, "encoding": {"x": {"datum": -360, "axis": null}, "y": {"datum": 2.6, "axis": null}, "text": {"field": "f2"}}},
{"data": {"name": "t"}, "transform": [{"filter": "datum.p==5"}], "mark": {"type": "text"}, "encoding": {"x": {"datum": -360, "axis": null}, "y": {"datum": 2.15, "axis": null}, "text": {"field": "f3"}}}
]
}
],
"config": {
"font": "Liberation Sans",
"view": {"stroke": "#262626", "strokeWidth": 1},
"line": {"strokeWidth": 1.3, "interpolate": "cardinal"},
"point": {"shape": "M-1,0L1,0M0,-1L0,1M-0.7,-0.7L0.7,0.7M-0.7,0.7L0.7,-0.7", "filled": false, "color": "#000000", "strokeWidth": 1.4, "size": 85, "opacity": 1},
"text": {"font": "Liberation Sans", "fontSize": 13, "align": "left", "baseline": "middle", "color": "#262626"},
"axis": {"grid": false, "domain": false, "tickSize": -4, "tickColor": "#262626", "tickWidth": 1, "labelFont": "Liberation Sans", "labelFontSize": 14, "labelColor": "#262626", "titleFont": "Liberation Sans", "titleFontSize": 16, "titleFontWeight": "normal", "titleColor": "#262626"},
"axisY": {"labelPadding": 8, "titlePadding": 6},
"axisX": {"labelPadding": 14, "titlePadding": 4}
}
}
